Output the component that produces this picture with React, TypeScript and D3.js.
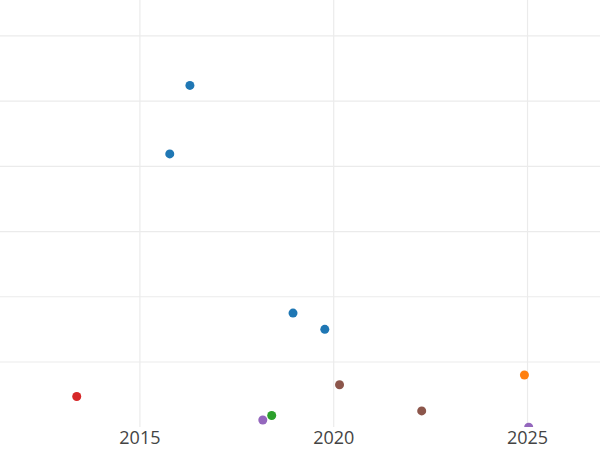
import React from "react";
import * as d3 from "d3";

const groups = ["blue", "orange", "green", "red", "purple", "brown"];
const groupColors = ["#1f77b4", "#ff7f0e", "#2ca02c", "#d62728", "#9467bd", "#8c564b"];

const pointGroup = ["blue", "blue", "blue", "blue", "red", "green", "purple", "purple", "brown", "brown", "orange"];
const pointYear = [2016.29, 2015.77, 2018.95, 2019.77, 2013.37, 2018.4, 2018.17, 2025.03, 2020.15, 2022.27, 2024.92];
const pointValue = [52.4, 41.9, 17.5, 15.0, 4.7, 1.8, 1.1, 0.0, 6.5, 2.5, 8.0];

const xTicks = [2015, 2020, 2025];
const yGrid = [10, 20, 30, 40, 50, 60];

const W = 600;
const H = 450;
const plotBottom = 427;

export default function App() {
  const x = d3.scaleLinear().domain([2011.39, 2026.87]).range([0, W]);
  const y = d3.scaleLinear().domain([0, 65.5]).range([427.2, 0]);
  const color = d3.scaleOrdinal<string, string>().domain(groups).range(groupColors);

  return (
    <svg
      width={W}
      height={H}
      style={{ position: "absolute", left: 0, top: 0, background: "#fff" }}
    >
      <defs>
        <clipPath id="plotclip">
          <rect x={0} y={0} width={W} height={plotBottom} />
        </clipPath>
      </defs>
      <g>
        {yGrid.map((v) => (
          <line key={"h" + v} x1={0} x2={W} y1={y(v)} y2={y(v)} stroke="#ebebeb" strokeWidth={1.2} />
        ))}
        {xTicks.map((t) => (
          <line key={"v" + t} x1={x(t)} x2={x(t)} y1={0} y2={plotBottom} stroke="#ebebeb" strokeWidth={1.2} />
        ))}
      </g>
      <g clipPath="url(#plotclip)">
        {pointYear.map((yr, i) => (
          <circle key={i} cx={x(yr)} cy={y(pointValue[i])} r={4.5} fill={color(pointGroup[i])} />
        ))}
      </g>
      <g fontFamily="'Open Sans', sans-serif" fontSize={18} fill="#444">
        {xTicks.map((t) => (
          <text key={"t" + t} x={x(t)} y={444} textAnchor="middle">
            {t}
          </text>
        ))}
      </g>
    </svg>
  );
}
